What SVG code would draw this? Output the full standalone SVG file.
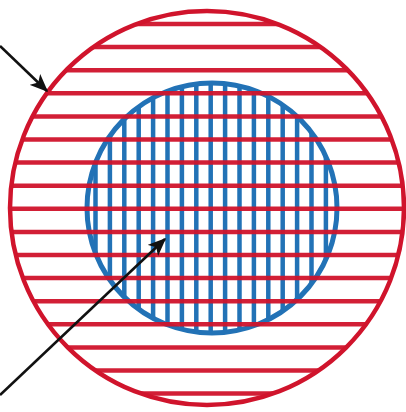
<svg xmlns="http://www.w3.org/2000/svg" width="406" height="412" viewBox="0 0 406 412">
<style>
.red{stroke:#d0142c;fill:none}
.blue{stroke:#2272b6;fill:none}
.hl{stroke:#d0142c;stroke-width:4.5}
.vl{stroke:#2272b6;stroke-width:4.5}
.arr{stroke:#111;stroke-width:2.6;fill:none;marker-end:url(#ah)}
</style>
<defs>
<clipPath id="outer"><circle cx="207" cy="208" r="197"/></clipPath>
<clipPath id="inner"><circle cx="212" cy="208" r="125"/></clipPath>
<marker id="ah" viewBox="0 0 12 10" refX="11" refY="5" markerWidth="7" markerHeight="6" orient="auto" markerUnits="strokeWidth">
<path d="M0,0 L12,5 L0,10 L3,5 z" fill="#111"/>
</marker>
</defs>
<rect width="406" height="412" fill="#fff"/>
<g id="inner-region">
<g clip-path="url(#inner)">
<line class="vl" x1="95.5" y1="80" x2="95.5" y2="340"/>
<line class="vl" x1="109.9" y1="80" x2="109.9" y2="340"/>
<line class="vl" x1="124.3" y1="80" x2="124.3" y2="340"/>
<line class="vl" x1="138.7" y1="80" x2="138.7" y2="340"/>
<line class="vl" x1="153.1" y1="80" x2="153.1" y2="340"/>
<line class="vl" x1="167.5" y1="80" x2="167.5" y2="340"/>
<line class="vl" x1="181.9" y1="80" x2="181.9" y2="340"/>
<line class="vl" x1="196.3" y1="80" x2="196.3" y2="340"/>
<line class="vl" x1="210.7" y1="80" x2="210.7" y2="340"/>
<line class="vl" x1="225.1" y1="80" x2="225.1" y2="340"/>
<line class="vl" x1="239.5" y1="80" x2="239.5" y2="340"/>
<line class="vl" x1="253.9" y1="80" x2="253.9" y2="340"/>
<line class="vl" x1="268.3" y1="80" x2="268.3" y2="340"/>
<line class="vl" x1="282.7" y1="80" x2="282.7" y2="340"/>
<line class="vl" x1="297.1" y1="80" x2="297.1" y2="340"/>
<line class="vl" x1="311.5" y1="80" x2="311.5" y2="340"/>
<line class="vl" x1="325.9" y1="80" x2="325.9" y2="340"/>
</g>
<circle class="blue" cx="212" cy="208" r="125" stroke-width="5"/>
</g>
<g id="outer-region">
<g clip-path="url(#outer)" opacity="0.95">
<line class="hl" x1="0" y1="24" x2="406" y2="24"/>
<line class="hl" x1="0" y1="47.1" x2="406" y2="47.1"/>
<line class="hl" x1="0" y1="70.2" x2="406" y2="70.2"/>
<line class="hl" x1="0" y1="93.3" x2="406" y2="93.3"/>
<line class="hl" x1="0" y1="116.4" x2="406" y2="116.4"/>
<line class="hl" x1="0" y1="139.5" x2="406" y2="139.5"/>
<line class="hl" x1="0" y1="162.6" x2="406" y2="162.6"/>
<line class="hl" x1="0" y1="185.7" x2="406" y2="185.7"/>
<line class="hl" x1="0" y1="208.8" x2="406" y2="208.8"/>
<line class="hl" x1="0" y1="231.9" x2="406" y2="231.9"/>
<line class="hl" x1="0" y1="255" x2="406" y2="255"/>
<line class="hl" x1="0" y1="278.1" x2="406" y2="278.1"/>
<line class="hl" x1="0" y1="301.2" x2="406" y2="301.2"/>
<line class="hl" x1="0" y1="324.3" x2="406" y2="324.3"/>
<line class="hl" x1="0" y1="347.4" x2="406" y2="347.4"/>
<line class="hl" x1="0" y1="370.5" x2="406" y2="370.5"/>
<line class="hl" x1="0" y1="393.6" x2="406" y2="393.6"/>
</g>
<circle class="red" cx="207" cy="208" r="197" stroke-width="4.5"/>
</g>
<g id="connectors">
<line class="arr" x1="0" y1="46" x2="47" y2="91"/>
<line class="arr" x1="0" y1="395" x2="165" y2="239"/>
</g>
</svg>
